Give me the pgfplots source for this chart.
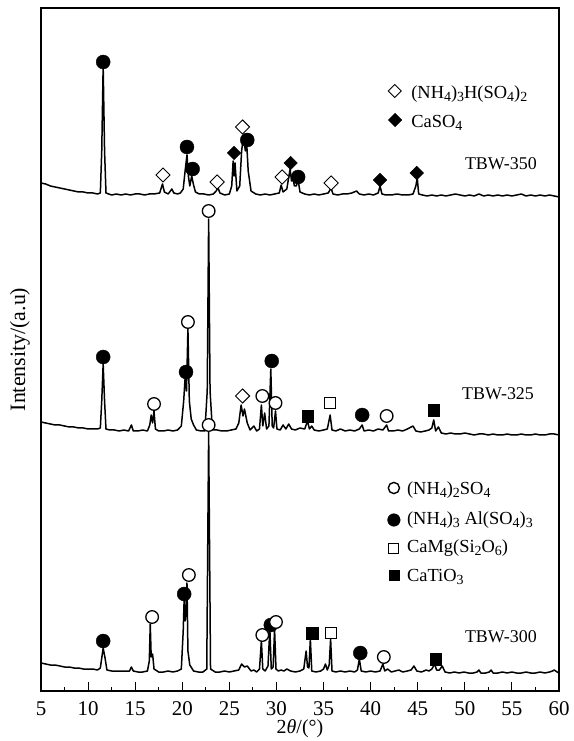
\documentclass[border=0pt]{standalone}
\usepackage{fontspec}
\setmainfont{Liberation Serif}
\usepackage{pgfplots}
\pgfplotsset{compat=1.18}
\newcommand{\sub}[1]{\raisebox{-0.28ex}{\fontsize{14}{14}\selectfont #1}}
\begin{document}
\begin{tikzpicture}
\begin{axis}[
  at={(0,0)}, anchor=south west,
  scale only axis, width=518bp, height=683bp,
  xmin=5, xmax=60, ymin=0, ymax=683,
  xtick={5,10,...,60}, minor x tick num=1,
  ytick=\empty, xtick pos=left,
  tick align=inside,
  major tick length=9bp, minor tick length=4.5bp,
  axis line style={line width=1.1bp}, every tick/.style={line width=1bp, black},
  /pgf/number format/assume math mode=true,
  xticklabel style={font=\fontsize{21}{25}\selectfont, anchor=base, yshift=-24bp},
  xlabel={2\textit{θ}/(°)},
  xlabel style={font=\fontsize{20}{24}\selectfont, at={(axis description cs:0.5,-0.0615)}, anchor=base},
  ylabel={Intensity/(a.u)},
  ylabel style={font=\fontsize{22}{26}\selectfont, at={(axis description cs:-0.0308,0.5)}, anchor=base},
  clip=false,
]
% TBW-350
\addplot[black, line width=1.5bp, line join=round] coordinates {
(5,508) (5.5,507) (6,505) (6.5,504) (7,503) (7.5,502) (8,501) (8.5,500) (9,499) (9.5,499) (10,498) (10.5,498) (11,497) (11.3,498) (11.45,540) (11.6,625) (11.75,540) (11.9,498) (12.2,497) (12.5,496) (13,497) (13.5,496) (14,497) (14.5,496) (15,497) (15.5,497) (16,496) (16.5,497) (17,497) (17.6,498) (17.9,507) (18.1,499) (18.5,497) (18.9,502) (19.1,498) (19.5,497) (19.8,498) (20.1,502) (20.3,520) (20.5,536) (20.65,515) (20.8,505) (21.0,515) (21.2,506) (21.4,499) (21.8,497) (22.3,497) (22.8,496) (23.3,497) (23.6,500) (23.8,503) (24.0,498) (24.5,496) (25.0,497) (25.25,505) (25.4,530) (25.5,515) (25.6,528) (25.8,500) (26.1,505) (26.3,540) (26.5,555) (26.7,540) (26.85,546) (27.0,520) (27.3,500) (27.8,497) (28.3,496) (28.8,497) (29.3,496) (29.8,497) (30.3,498) (30.5,506) (30.7,499) (31.1,502) (31.45,522) (31.6,510) (31.75,514) (31.9,505) (32.1,505) (32.3,511) (32.5,499) (33,497) (33.5,496) (34,497) (34.5,496) (35,497) (35.5,498) (35.8,503) (36.0,497) (36.5,496) (37,497) (37.5,497) (38,498) (38.5,500) (38.8,497) (39.3,496) (39.8,497) (40.3,496) (40.8,498) (41.0,505) (41.2,497) (41.6,496) (42.2,496) (42.8,497) (43.4,496) (44,496) (44.5,497) (44.8,505) (44.95,513) (45.1,497) (45.5,496) (46,495) (46.5,496) (47,495) (47.5,496) (48,495) (48.5,496) (49,497) (49.5,496) (50,495) (50.5,496) (51,495) (51.5,497) (52,495) (52.5,496) (53,495) (53.5,496) (54,495) (54.5,496) (55,495) (55.5,496) (56,497) (56.5,495) (57,496) (57.5,495) (58,496) (58.5,495) (59,496) (59.5,495) (60,494)
};
% TBW-325
\addplot[black, line width=1.5bp, line join=round] coordinates {
(5,269) (5.5,268) (6,267) (6.5,266) (7,266) (7.5,265) (8,264) (8.5,264) (9,263) (9.5,263) (10,262) (10.5,262) (11,262) (11.3,263) (11.45,290) (11.6,327) (11.75,290) (11.9,262) (12.3,261) (12.8,261) (13.3,260) (13.8,261) (14.3,260) (14.6,266) (14.8,260) (15.3,260) (15.8,261) (16.3,260) (16.55,266) (16.7,276) (16.85,268) (17.0,280) (17.15,262) (17.5,260) (18,260) (18.5,261) (19,260) (19.5,261) (19.9,265) (20.15,290) (20.3,313) (20.45,300) (20.6,362) (20.75,290) (20.95,272) (21.2,266) (21.5,261) (22,260) (22.4,260) (22.65,300) (22.8,472) (22.95,300) (23.2,261) (23.7,261) (24.2,260) (24.7,260) (25.2,261) (25.7,262) (26.0,268) (26.25,286) (26.45,275) (26.6,282) (26.9,268) (27.2,261) (27.6,265) (27.9,260) (28.2,262) (28.4,286) (28.55,265) (28.75,278) (28.95,262) (29.2,265) (29.4,322) (29.55,265) (29.7,263) (29.9,280) (30.05,262) (30.4,261) (30.7,266) (31,262) (31.3,267) (31.6,262) (32,261) (32.5,263) (33.0,262) (33.3,270) (33.5,262) (33.75,265) (34,261) (34.5,260) (35,261) (35.4,262) (35.7,276) (35.9,261) (36.3,260) (36.8,262) (37.3,260) (37.8,261) (38.3,260) (38.8,262) (39.1,266) (39.3,260) (39.8,261) (40.3,260) (40.8,262) (41.3,261) (41.7,266) (41.9,260) (42.4,260) (42.9,261) (43.4,260) (43.9,262) (44.5,265) (44.8,260) (45.3,259) (45.8,260) (46.2,261) (46.5,263) (46.7,271) (46.9,260) (47.2,264) (47.5,258) (48,257) (48.5,258) (49,257) (49.5,257) (50,258) (50.5,257) (51,256) (51.5,257) (52,257) (52.5,256) (53,257) (53.5,256) (54,256) (54.5,257) (55,256) (55.5,256) (56,257) (56.5,256) (57,256) (57.5,257) (58,256) (58.5,256) (59,257) (59.5,257) (60,256)
};
% TBW-300
\addplot[black, line width=1.5bp, line join=round] coordinates {
(5,28) (5.5,27) (6,26) (6.5,26) (7,25) (7.5,24) (8,24) (8.5,23) (9,23) (9.5,22) (10,22) (10.5,22) (11,21) (11.3,23) (11.45,33) (11.6,43) (11.8,33) (12,21) (12.5,20) (13,20) (13.5,20) (14,20) (14.4,20) (14.6,24) (14.8,20) (15.3,19) (15.8,19) (16.3,20) (16.5,30) (16.6,67) (16.7,34) (16.85,37) (17.0,22) (17.5,19) (18,19) (18.5,20) (19,19) (19.5,20) (19.9,22) (20.1,60) (20.2,92) (20.3,70) (20.4,80) (20.5,108) (20.6,40) (20.8,26) (21.2,20) (21.7,19) (22.2,19) (22.6,22) (22.75,200) (22.8,259) (22.85,200) (23.0,22) (23.5,19) (24,19) (24.5,20) (25,19) (25.5,20) (26.0,21) (26.3,27) (26.6,24) (26.9,25) (27.3,20) (27.6,21) (27.9,19) (28.2,22) (28.4,50) (28.55,22) (28.8,20) (29.1,25) (29.3,62) (29.45,22) (29.65,24) (29.8,62) (29.95,22) (30.2,20) (30.5,21) (30.8,20) (31.1,22) (31.5,20) (32,19) (32.5,20) (32.9,22) (33.15,40) (33.3,24) (33.45,23) (33.6,52) (33.75,20) (34.2,19) (34.7,20) (35.0,22) (35.2,27) (35.4,21) (35.6,26) (35.75,52) (35.9,20) (36.3,19) (36.8,20) (37.3,19) (37.8,20) (38.3,19) (38.6,21) (38.8,32) (39.0,20) (39.5,19) (40,20) (40.5,19) (41,20) (41.3,27) (41.5,20) (41.8,22) (42.2,19) (42.6,20) (43,21) (43.4,19) (43.9,20) (44.3,21) (44.6,25) (44.9,20) (45.4,19) (45.9,21) (46.2,20) (46.5,22) (46.8,27) (47.0,21) (47.3,21) (47.6,25) (47.9,19) (48.4,18) (48.9,19) (49.4,18) (49.9,19) (50.4,18) (50.9,18) (51.3,19) (51.5,21) (51.7,18) (52.2,18) (52.6,19) (52.8,21) (53.0,18) (53.5,18) (54,19) (54.5,18) (55,19) (55.5,18) (56,18) (56.5,19) (57,18) (57.5,18) (58,19) (58.5,18) (59,19) (59.3,20) (59.5,21) (59.8,19) (60,18)
};
% filled circles
\addplot[only marks, mark=*, mark size=7bp, mark options={fill=black, draw=black}] coordinates {
(11.6,629) (20.5,544) (21.1,522) (26.9,551) (32.3,514)
(11.6,334) (20.4,319) (29.5,330) (39.1,276)
(11.6,50) (20.2,97) (29.4,66) (38.9,38)
};
\addplot[only marks, mark=*, mark size=6.3bp, mark options={fill=black, draw=black}] coordinates {(42.47,171)};
% open circles
\addplot[only marks, mark=*, mark size=6.3bp, mark options={fill=white, draw=black, line width=1.3bp}] coordinates {
(17.0,287) (20.6,369) (22.8,480) (28.5,295) (29.9,288) (41.7,275)
(16.8,74) (20.7,116) (22.8,266) (28.5,56) (29.95,69) (41.4,34)
};
\addplot[only marks, mark=*, mark size=5.6bp, mark options={fill=white, draw=black, line width=1.4bp}] coordinates {(42.47,203)};
% open diamonds
\addplot[only marks, mark=square*, mark size=5bp, mark options={rotate=45, fill=white, draw=black, line width=0.9bp}] coordinates {
(17.95,516) (23.7,509) (26.4,564) (30.6,514) (35.8,508)
(26.4,295)
};
\addplot[only marks, mark=square*, mark size=4.6bp, mark options={rotate=45, fill=white, draw=black, line width=0.9bp}] coordinates {(42.55,600)};
% filled diamonds
\addplot[only marks, mark=square*, mark size=4.8bp, mark options={rotate=45, fill=black, draw=black}] coordinates {
(25.5,538) (31.5,528) (41.0,511) (44.9,518)
(42.6,571)
};
% open squares
\addplot[only marks, mark=square*, mark size=5.8bp, mark options={fill=white, draw=black, line width=0.9bp}] coordinates {
(35.7,288) (35.8,58)
};
\addplot[only marks, mark=square*, mark size=5bp, mark options={fill=white, draw=black, line width=0.9bp}] coordinates {(42.47,143)};
% filled squares
\addplot[only marks, mark=square*, mark size=5.8bp, mark options={fill=black, draw=black}] coordinates {
(33.3,275) (46.7,281) (33.8,58) (46.9,32)
};
\addplot[only marks, mark=square*, mark size=5.2bp, mark options={fill=black, draw=black}] coordinates {(42.47,116)};
% texts
\node[anchor=base west, font=\fontsize{18.5}{22}\selectfont, inner sep=0pt] at (axis cs:44.3,592) {(NH\sub{4})\sub{3}H(SO\sub{4})\sub{2}};
\node[anchor=base west, font=\fontsize{18.5}{22}\selectfont, inner sep=0pt] at (axis cs:44.3,563) {CaSO\sub{4}};
\node[anchor=base west, font=\fontsize{18}{22}\selectfont, inner sep=0pt] at (axis cs:50.0,521) {TBW-350};
\node[anchor=base west, font=\fontsize{18}{22}\selectfont, inner sep=0pt] at (axis cs:49.7,291) {TBW-325};
\node[anchor=base west, font=\fontsize{18}{22}\selectfont, inner sep=0pt] at (axis cs:50.0,49) {TBW-300};
\node[anchor=base west, font=\fontsize{18.5}{22}\selectfont, inner sep=0pt] at (axis cs:43.85,196) {(NH\sub{4})\sub{2}SO\sub{4}};
\node[anchor=base west, font=\fontsize{18.5}{22}\selectfont, inner sep=0pt] at (axis cs:43.85,166) {(NH\sub{4})\sub{3} Al(SO\sub{4})\sub{3}};
\node[anchor=base west, font=\fontsize{18.5}{22}\selectfont, inner sep=0pt] at (axis cs:43.85,138) {CaMg(Si\sub{2}O\sub{6})};
\node[anchor=base west, font=\fontsize{18.5}{22}\selectfont, inner sep=0pt] at (axis cs:43.85,109) {CaTiO\sub{3}};
\end{axis}
\path (-41bp,-50bp) rectangle (533bp,691bp);
\end{tikzpicture}
\end{document}
